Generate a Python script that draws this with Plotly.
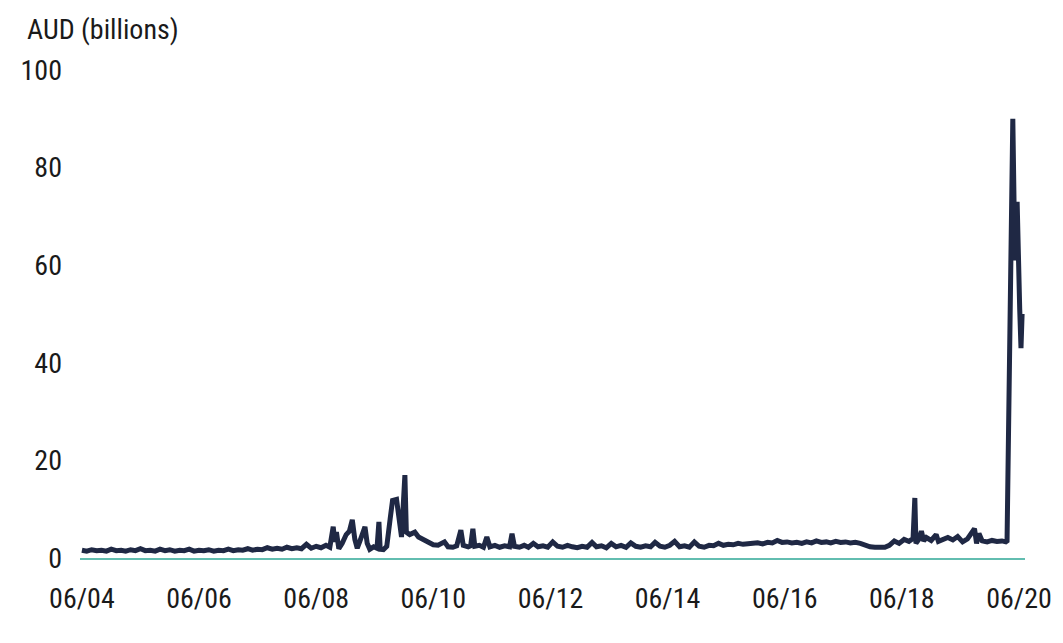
import plotly.graph_objects as go

# Dates and values (AUD billions)
dates = [
    "2004-06-01","2004-07-01","2004-08-01","2004-09-01","2004-10-01","2004-11-01","2004-12-01",
    "2005-01-01","2005-02-01","2005-03-01","2005-04-01","2005-05-01","2005-06-01","2005-07-01",
    "2005-08-01","2005-09-01","2005-10-01","2005-11-01","2005-12-01","2006-01-01","2006-02-01",
    "2006-03-01","2006-04-01","2006-05-01","2006-06-01","2006-07-01","2006-08-01","2006-09-01",
    "2006-10-01","2006-11-01","2006-12-01","2007-01-01","2007-02-01","2007-03-01","2007-04-01",
    "2007-05-01","2007-06-01","2007-07-01","2007-08-01","2007-09-01","2007-10-01","2007-11-01",
    "2007-12-01","2008-01-01","2008-02-01","2008-03-01","2008-04-01","2008-05-01","2008-06-01",
    "2008-07-01","2008-08-01",
    "2008-08-25","2008-09-15","2008-09-25","2008-10-05","2008-10-20","2008-11-10","2008-12-05",
    "2008-12-25","2009-01-12","2009-01-28","2009-02-12","2009-03-01","2009-03-18","2009-04-01",
    "2009-04-15","2009-05-01","2009-05-25","2009-06-15","2009-06-27","2009-07-05","2009-07-25",
    "2009-08-15","2009-09-05","2009-09-20","2009-10-15","2009-10-28","2009-11-15","2009-12-06",
    "2009-12-15","2010-01-05","2010-02-06","2010-03-01","2010-04-01","2010-05-01","2010-06-01",
    "2010-07-01","2010-08-10","2010-09-01","2010-10-01","2010-10-25","2010-11-20","2010-12-05",
    "2011-01-05","2011-01-20","2011-02-03","2011-02-15","2011-03-15","2011-04-10","2011-05-01",
    "2011-05-20","2011-06-20","2011-07-20","2011-08-20","2011-09-20","2011-10-05","2011-10-20",
    "2011-11-20","2011-12-20",
    "2012-01-15","2012-02-15","2012-03-15","2012-04-15","2012-05-15","2012-06-15","2012-07-15",
    "2012-08-15","2012-09-15","2012-10-15","2012-11-15","2012-12-15","2013-01-15","2013-02-15",
    "2013-03-15","2013-04-15","2013-05-15","2013-06-15","2013-07-15","2013-08-15","2013-09-15",
    "2013-10-15","2013-11-15","2013-12-15","2014-01-15","2014-02-15","2014-03-15","2014-04-15",
    "2014-05-15","2014-06-15","2014-07-15","2014-08-15","2014-09-15","2014-10-15","2014-11-15",
    "2014-12-15","2015-01-15","2015-02-15","2015-03-15","2015-04-15","2015-05-15","2015-06-15",
    "2015-07-15","2015-08-15","2015-09-15","2015-10-15","2015-11-15","2015-12-15","2016-01-15",
    "2016-02-15","2016-03-15","2016-04-15","2016-05-15","2016-06-15","2016-07-15","2016-08-15",
    "2016-09-15","2016-10-15","2016-11-15","2016-12-15","2017-01-15","2017-02-15","2017-03-15",
    "2017-04-15","2017-05-15","2017-06-15","2017-07-15","2017-08-15","2017-09-15","2017-10-15",
    "2017-11-15","2017-12-15","2018-01-15","2018-02-15","2018-03-15","2018-04-15","2018-05-15",
    "2018-06-15","2018-07-15","2018-08-10","2018-08-21","2018-08-28","2018-09-15","2018-10-01",
    "2018-10-15","2018-11-01","2018-12-01","2019-01-01","2019-01-15","2019-02-15","2019-03-15",
    "2019-04-15","2019-05-15","2019-06-15","2019-07-15","2019-08-28","2019-09-10","2019-09-25",
    "2019-10-15","2019-11-15","2019-12-15","2020-01-15","2020-02-15","2020-03-10","2020-03-18",
    "2020-04-23","2020-05-06","2020-05-20","2020-05-28","2020-06-05","2020-06-13","2020-06-20",
]
values = [
    1.6,1.4,1.7,1.5,1.6,1.4,1.8,
    1.5,1.6,1.4,1.7,1.5,1.9,1.5,
    1.6,1.4,1.8,1.5,1.7,1.4,1.6,
    1.5,1.8,1.4,1.6,1.5,1.7,1.4,
    1.6,1.5,1.8,1.5,1.7,1.6,1.9,
    1.6,1.8,1.7,2.1,1.8,2.0,1.8,
    2.2,1.9,2.1,1.9,2.8,2.0,2.4,
    2.1,2.6,
    2.2,6.4,3.3,5.3,1.9,3.0,4.8,
    5.5,7.8,3.8,2.0,3.5,5.0,6.4,
    3.0,1.8,2.3,2.0,7.4,1.8,1.7,
    2.4,8.0,11.8,12.0,8.4,4.3,17.0,
    5.3,4.8,5.3,4.3,3.8,3.2,2.7,
    2.6,3.3,2.3,2.2,2.5,5.7,2.6,
    2.3,2.5,6.0,2.4,2.6,2.2,4.3,
    2.3,2.6,2.2,2.5,2.3,5.0,2.4,
    2.2,2.6,
    2.2,3.0,2.3,2.5,2.2,3.3,2.4,
    2.2,2.6,2.3,2.1,2.4,2.2,3.2,
    2.3,2.5,2.1,3.0,2.3,2.6,2.2,
    3.1,2.4,2.2,2.5,2.3,3.2,2.4,
    2.2,2.6,3.4,2.3,2.5,2.2,3.3,
    2.4,2.2,2.6,2.5,3.0,2.6,2.8,
    2.7,3.0,2.8,2.9,3.0,3.1,2.9,
    3.2,3.1,3.6,3.2,3.3,3.1,3.2,
    3.0,3.3,3.1,3.5,3.2,3.3,3.1,
    3.4,3.2,3.3,3.1,3.2,3.0,2.6,
    2.3,2.2,2.3,2.2,2.6,3.5,3.0,
    3.8,3.4,4.0,12.3,3.0,3.8,5.5,
    3.5,4.2,3.6,4.8,3.4,3.9,4.2,
    3.7,4.4,3.3,3.9,6.0,3.0,5.0,
    3.5,3.3,3.6,3.4,3.5,3.3,3.5,
    90.0,61.0,73.0,53.0,51.0,43.0,50.0,
]

tick_vals = ["2004-06-01","2006-06-01","2008-06-01","2010-06-01","2012-06-01",
             "2014-06-01","2016-06-01","2018-06-01","2020-06-01"]
tick_text = ["06/04","06/06","06/08","06/10","06/12","06/14","06/16","06/18","06/20"]
y_ticks = [0, 20, 40, 60, 80, 100]

FONT = "Roboto Condensed, Liberation Sans Narrow, DejaVu Sans Condensed, DejaVu Sans, sans-serif"
TXT = "#1a1a1a"
FS = 28

fig = go.Figure()
fig.add_trace(go.Scatter(
    x=dates, y=values, mode="lines",
    line=dict(color="#1f2844", width=5),
    hoverinfo="skip", showlegend=False,
))

# the page body has an 8px margin, so the figure is sized and placed to compensate
fig.update_layout(
    width=1047, height=627,
    margin=dict(l=72, r=30, t=62, b=77),
    paper_bgcolor="white", plot_bgcolor="white",
    font=dict(family=FONT, size=FS, color=TXT),
    xaxis=dict(
        range=["2004-05-20", "2020-07-08"],
        tickvals=tick_vals, ticktext=tick_text,
        showgrid=False, zeroline=False, automargin=False,
        showline=True, linecolor="#62bdb0", linewidth=2,
        ticks="", ticklabelstandoff=14,
        tickfont=dict(family=FONT, size=FS, color=TXT),
    ),
    yaxis=dict(
        range=[0, 100], tickvals=y_ticks, automargin=False,
        showgrid=False, zeroline=False, showline=False,
        ticks="", ticklabelstandoff=17,
        tickfont=dict(family=FONT, size=FS, color=TXT),
    ),
    annotations=[dict(
        text="AUD (billions)", xref="paper", yref="paper",
        x=-0.058, y=1.082, xanchor="left", yanchor="middle",
        showarrow=False, font=dict(family=FONT, size=FS, color=TXT),
    )],
)

fig.write_html("out.html")
